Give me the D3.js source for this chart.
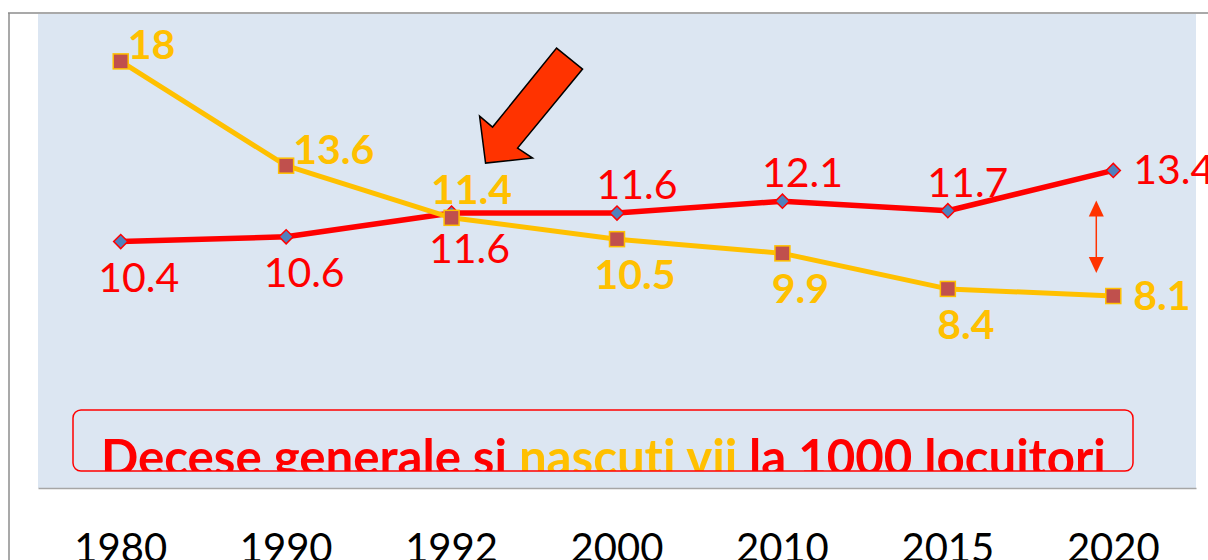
<!DOCTYPE html>
<html>
<head>
<meta charset="utf-8">
<script src="https://cdn.jsdelivr.net/npm/d3@7"></script>
<style>
  html, body { margin: 0; padding: 0; background: #ffffff; overflow: hidden; }
  svg { display: block; }
  text, tspan {
    font-variant-ligatures: none;
    font-feature-settings: "liga" 0, "clig" 0, "calt" 0, "dlig" 0;
  }
</style>
</head>
<body>
<div id="chart"></div>
<script>
"use strict";

// data
var years = ["1980", "1990", "1992", "2000", "2010", "2015", "2020"];
var decese = [10.4, 10.6, 11.6, 11.6, 12.1, 11.7, 13.4];
var nascuti = [18, 13.6, 11.4, 10.5, 9.9, 8.4, 8.1];
var deceseLabelPos = ["below", "below", "below", "above", "above", "above", "right"];
var nascutiLabelPos = ["topright", "topright", "above", "below", "below", "below", "right"];
var titleParts = [
  { text: "Decese generale si ", color: "red" },
  { text: "nascuti vii", color: "yellow" },
  { text: " la 1000 locuitori", color: "red" }
];

// params
var width = 1208, height = 560;
var plotLeft = 38, plotRight = 1196, plotTop = 14, plotBottom = 488;
var redColor = "#ff0000";
var yellowColor = "#ffc000";
var arrowColor = "#ff3300";
var fontFamily = "Lato, 'Open Sans', sans-serif";
var labelSize = 41;

var svg = d3.select("#chart")
  .append("svg")
  .attr("width", width)
  .attr("height", height);

// outer frame
svg.append("line")
  .attr("x1", 8).attr("x2", width).attr("y1", 13).attr("y2", 13)
  .attr("stroke", "#8c8c8c").attr("stroke-width", 1.5);
svg.append("line")
  .attr("x1", 9).attr("x2", 9).attr("y1", 13).attr("y2", height)
  .attr("stroke", "#8c8c8c").attr("stroke-width", 1.5);

// plot area
svg.append("rect")
  .attr("x", plotLeft).attr("y", plotTop)
  .attr("width", plotRight - plotLeft).attr("height", plotBottom - plotTop)
  .attr("fill", "#dce6f2");

var x = d3.scaleBand().domain(years).range([plotLeft, plotRight]);
var y = d3.scaleLinear().domain([0, 20]).range([plotBottom, plotTop]);
function cx(year) { return x(year) + x.bandwidth() / 2; }

// x axis
var xAxis = svg.append("g")
  .attr("transform", "translate(0," + plotBottom + ")")
  .call(d3.axisBottom(x).tickSize(0).tickSizeOuter(0).tickPadding(46));
xAxis.select(".domain").attr("stroke", "#a6a6a6").attr("stroke-width", 1.5);
xAxis.selectAll("text")
  .attr("font-family", fontFamily)
  .attr("font-size", 40)
  .attr("fill", "#000000");

// title box (annotation inside the plot)
var box = { x: 73, y: 410, w: 1060, h: 61 };
svg.append("clipPath").attr("id", "titleClip")
  .append("rect")
  .attr("x", box.x).attr("y", box.y).attr("width", box.w).attr("height", box.h);

var title = svg.append("text")
  .attr("clip-path", "url(#titleClip)")
  .attr("x", 101).attr("y", 475)
  .attr("font-family", fontFamily)
  .attr("font-weight", "bold")
  .attr("font-size", 40)
  .style("font-variant-ligatures", "none");
titleParts.forEach(function(part) {
  title.append("tspan")
    .attr("fill", part.color === "red" ? redColor : yellowColor)
    .text(part.text);
});
var titleLen = title.node().getComputedTextLength();
title.attr("font-size", 40 * 1005 / titleLen);

svg.append("rect")
  .attr("x", box.x).attr("y", box.y).attr("width", box.w).attr("height", box.h)
  .attr("rx", 8).attr("ry", 8)
  .attr("fill", "none").attr("stroke", redColor).attr("stroke-width", 1.5);

// series
var line = d3.line()
  .x(function(d) { return cx(d.year); })
  .y(function(d) { return y(d.value); });

function toPoints(values) {
  return values.map(function(v, i) { return { year: years[i], value: v }; });
}

var decesePts = toPoints(decese);
var nascutiPts = toPoints(nascuti);

svg.append("path")
  .datum(decesePts)
  .attr("d", line)
  .attr("fill", "none")
  .attr("stroke", redColor)
  .attr("stroke-width", 5.5)
  .attr("stroke-linejoin", "round");

svg.append("g")
  .selectAll("path")
  .data(decesePts)
  .enter()
  .append("path")
    .attr("d", d3.symbol().type(d3.symbolSquare).size(100))
    .attr("transform", function(d) {
      return "translate(" + cx(d.year) + "," + y(d.value) + ") rotate(45)";
    })
    .attr("fill", "#4f81bd")
    .attr("stroke", redColor)
    .attr("stroke-width", 1.5);

svg.append("path")
  .datum(nascutiPts)
  .attr("d", line)
  .attr("fill", "none")
  .attr("stroke", yellowColor)
  .attr("stroke-width", 5)
  .attr("stroke-linejoin", "round");

svg.append("g")
  .selectAll("rect")
  .data(nascutiPts)
  .enter()
  .append("rect")
    .attr("x", function(d) { return cx(d.year) - 7.5; })
    .attr("y", function(d) { return y(d.value) - 7.5; })
    .attr("width", 15)
    .attr("height", 15)
    .attr("fill", "#c0504d")
    .attr("stroke", yellowColor)
    .attr("stroke-width", 1.5);

// data labels
var placements = {
  above: { dx: 20, dy: -14, anchor: "middle" },
  below: { dx: 18, dy: 50, anchor: "middle" },
  right: { dx: 20, dy: 14, anchor: "start" },
  topright: { dx: 7, dy: -2, anchor: "start" }
};

function addLabels(points, positions, color, weight) {
  svg.append("g")
    .selectAll("text")
    .data(points)
    .enter()
    .append("text")
      .attr("x", function(d, i) { return cx(d.year) + placements[positions[i]].dx; })
      .attr("y", function(d, i) { return y(d.value) + placements[positions[i]].dy; })
      .attr("text-anchor", function(d, i) { return placements[positions[i]].anchor; })
      .attr("font-family", fontFamily)
      .attr("font-size", labelSize)
      .attr("font-weight", weight)
      .attr("fill", color)
      .text(function(d) { return d.value; });
}

addLabels(decesePts, deceseLabelPos, redColor, "normal");
addLabels(nascutiPts, nascutiLabelPos, yellowColor, "bold");

// big block arrow pointing at the crossing in 1992
var tipX = cx("1992") + 34, tipY = y(decese[2]) - 50;
var arrowShape = [[0, 0], [-6, -47], [7, -36], [71, -115], [97, -94], [32, -15], [47, -5]];
svg.append("polygon")
  .attr("points", arrowShape.map(function(p) {
    return (tipX + p[0]) + "," + (tipY + p[1]);
  }).join(" "))
  .attr("fill", arrowColor)
  .attr("stroke", "#000000")
  .attr("stroke-width", 1.5)
  .attr("stroke-linejoin", "miter");

// double arrow showing the gap in 2020
var gapX = cx("2020") - 17;
var gapTop = y(decese[6]) + 30, gapBottom = y(nascuti[6]) - 23;
svg.append("line")
  .attr("x1", gapX).attr("x2", gapX)
  .attr("y1", gapTop + 10).attr("y2", gapBottom - 10)
  .attr("stroke", arrowColor).attr("stroke-width", 1.5);
svg.append("polygon")
  .attr("points", [[gapX, gapTop], [gapX - 7.5, gapTop + 16], [gapX + 7.5, gapTop + 16]].join(" "))
  .attr("fill", arrowColor);
svg.append("polygon")
  .attr("points", [[gapX, gapBottom], [gapX - 7.5, gapBottom - 16], [gapX + 7.5, gapBottom - 16]].join(" "))
  .attr("fill", arrowColor);
</script>
</body>
</html>
